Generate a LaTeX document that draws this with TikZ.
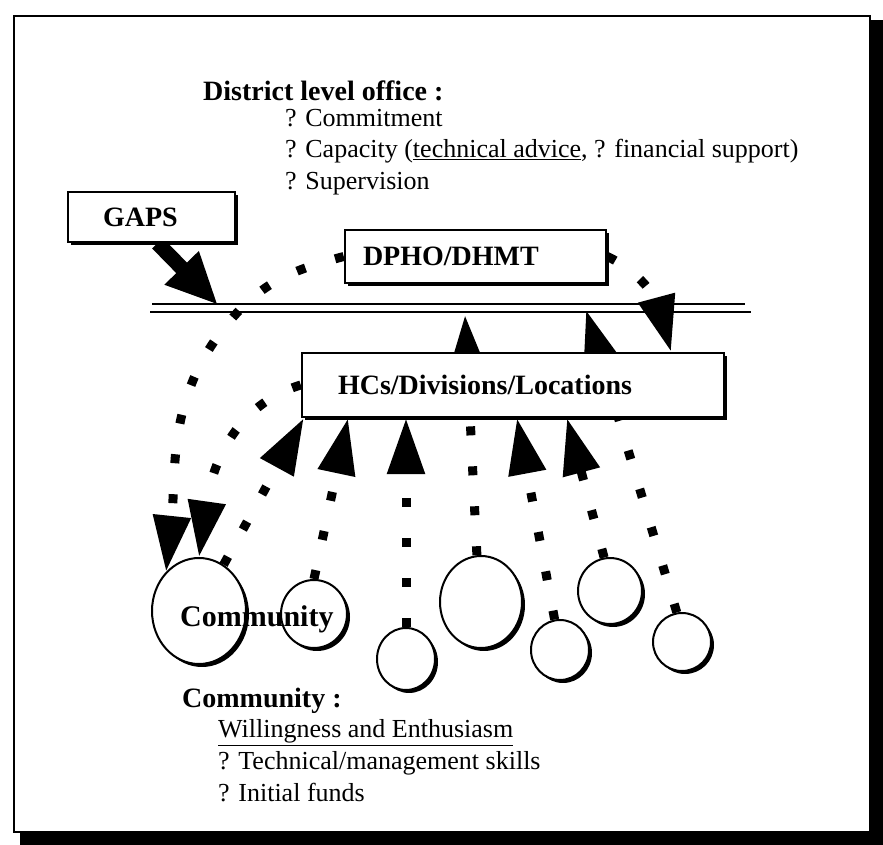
\documentclass[tikz,border=0pt]{standalone}
\usepackage{fontspec}
\setmainfont{Liberation Serif}
\usetikzlibrary{arrows.meta,shapes.geometric,shadows}
\pgfdeclarelayer{back}
\pgfsetlayers{back,main}

\begin{document}
\begin{tikzpicture}[x=1pt,y=1pt,
  txt/.style={anchor=base west,inner sep=0pt,font=\fontsize{26}{30}\selectfont},
  hd/.style={anchor=base west,inner sep=0pt,font=\fontsize{28}{32}\selectfont\bfseries},
  box/.style={draw,line width=2.5pt,fill=white,align=left,font=\fontsize{28}{32}\selectfont\bfseries,
    drop shadow={shadow xshift=3pt,shadow yshift=-3pt,opacity=1,fill=black}},
  comm/.style={ellipse,draw,line width=2pt,fill=white,inner sep=0pt,
    drop shadow={shadow xshift=3pt,shadow yshift=-3pt,opacity=1,fill=black}},
  dots/.style={line width=9pt,dash pattern=on 9pt off 31pt},
  tip/.style={-{Triangle[length=56pt,width=36pt]}}
]
\useasboundingbox (0,0) rectangle (883,845);
\begin{pgfonlayer}{back}
% frame with its shadow
\fill (20,0) rectangle (883,825);
\draw[line width=2.5pt,fill=white] (14,13) rectangle (870,829);
% the double line
\draw[line width=1.5pt] (152,541) -- (745,541);
\draw[line width=1.5pt] (150,533) -- (751,533);
\end{pgfonlayer}

\node[hd] (dlo) at (203,744) {District level office :};
\node[txt] (d1) at (285,718) {? Commitment};
\node[txt] (d2) at (285,687) {? Capacity (\underline{technical advice}, ? financial support)};
\node[txt] (d3) at (285,655) {? Supervision};

\node[box,text width=97pt,inner xsep=35pt,minimum height=50pt] (gaps) at (151.5,628) {GAPS};
\node[box,text width=225pt,inner xsep=18pt,minimum height=53pt] (dpho) at (475.5,588.5) {DPHO/DHMT};
\node[box,text width=350pt,inner xsep=36pt,minimum height=64pt] (hcs) at (513,460) {HCs/Divisions/Locations};

\node[comm,minimum width=94pt,minimum height=106pt] (c1) at (199,234) {};
\node[comm,minimum width=66pt,minimum height=68pt] (c2) at (314,231) {};
\node[comm,minimum width=58pt,minimum height=62pt] (c3) at (406,186) {};
\node[comm,minimum width=82pt,minimum height=92pt] (c4) at (481,243) {};
\node[comm,minimum width=58pt,minimum height=60pt] (c5) at (560,195) {};
\node[comm,minimum width=64pt,minimum height=66pt] (c6) at (610,254) {};
\node[comm,minimum width=58pt,minimum height=58pt] (c7) at (682,203) {};
\node[anchor=base west,inner sep=0pt,font=\fontsize{30}{34}\selectfont\bfseries] (clab) at (180,218) {Community};

\node[hd] (cm) at (182,137) {Community :};
\node[txt] (cm1) at (218,107) {\underline{Willingness and Enthusiasm}};
\node[txt] (cm2) at (218,75) {? Technical/management skills};
\node[txt] (cm3) at (218,43) {? Initial funds};

\coordinate (gtip) at (218,540);
\coordinate (mid) at (235,530);
\coordinate (up1) at (465,530);
\coordinate (up2) at (586,535);

\begin{pgfonlayer}{back}
\draw[line width=15pt,-{Triangle[length=52pt,width=44pt]}] ([xshift=6pt]gaps.south) -- (gtip);
\draw[dots,tip] (dpho.west) to[out=195,in=48] (mid) to[out=228,in=84] (c1.130);
\draw[dots,tip] (hcs.west) to[out=197,in=82] (c1.north);
\draw[dots,tip] (c1.62) -- ([xshift=3pt]hcs.south west);
\draw[dots,tip] (c2.north) -- ([xshift=-165pt]hcs.south);
\draw[dots,tip] (c3.north) -- (c3.north |- hcs.south);
\draw[dots,tip] (c4.95) -- (up1);
\draw[dots,tip] (c5.100) -- ([xshift=4pt]hcs.south);
\draw[dots,tip] (c6.100) -- ([xshift=54pt]hcs.south);
\draw[dots,tip] (c7.100) -- (up2);
\draw[dots,tip] (dpho.east) to[out=-25,in=105] ([xshift=158pt]hcs.north);
\end{pgfonlayer}
\end{tikzpicture}
\end{document}
